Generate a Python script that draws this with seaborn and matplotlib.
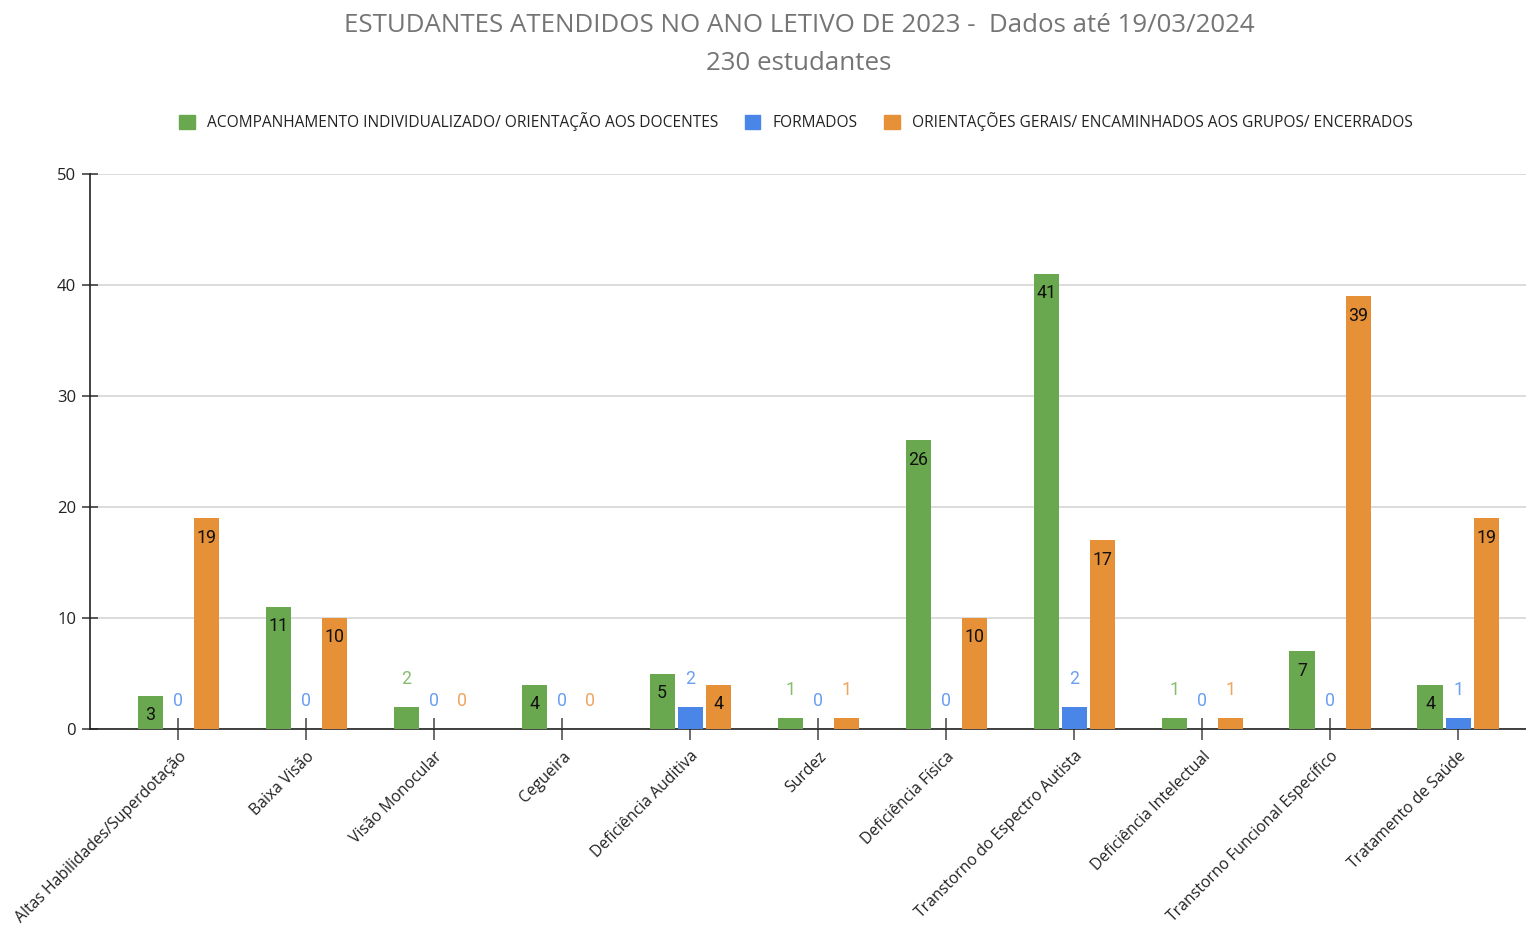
import matplotlib
matplotlib.use('Agg')
import matplotlib.pyplot as plt
import seaborn as sns
import pandas as pd
from matplotlib.patches import Patch

categories = ['Altas Habilidades/Superdotação', 'Baixa Visão', 'Visão Monocular', 'Cegueira',
              'Deficiência Auditiva', 'Surdez', 'Deficiência Física', 'Transtorno do Espectro Autista',
              'Deficiência Intelectual', 'Transtorno Funcional Específico', 'Tratamento de Saúde']
series_names = ['ACOMPANHAMENTO INDIVIDUALIZADO/ ORIENTAÇÃO AOS DOCENTES', 'FORMADOS',
                'ORIENTAÇÕES GERAIS/ ENCAMINHADOS AOS GRUPOS/ ENCERRADOS']
acompanhamento = [3, 11, 2, 4, 5, 1, 26, 41, 1, 7, 4]
formados = [0, 0, 0, 0, 2, 0, 0, 2, 0, 0, 1]
orientacoes = [19, 10, 0, 0, 4, 1, 10, 17, 1, 39, 19]
y_ticks = [0, 10, 20, 30, 40, 50]

colors = ['#6aa84f', '#4a86e8', '#e69138']
label_colors = ['#86bd6e', '#6b9ff0', '#eea560']

sns.set_style('white')
plt.rcParams['font.family'] = ['Open Sans', 'DejaVu Sans']

rows = []
for name, vals in zip(series_names, [acompanhamento, formados, orientacoes]):
    for c, v in zip(categories, vals):
        rows.append({'categoria': c, 'serie': name, 'valor': v})
df = pd.DataFrame(rows)

fig = plt.figure(figsize=(15.26, 9.26), dpi=100)
ax = fig.add_axes([90 / 1526, 1 - 729 / 926, 1 - 90 / 1526, (729 - 174) / 926])

sns.barplot(data=df, x='categoria', y='valor', hue='serie', hue_order=series_names,
            order=categories, palette=colors, width=0.66, gap=0.11, ax=ax,
            legend=False, zorder=3, saturation=1, linewidth=0)

ax.set_ylim(0, 50)
ax.set_xlim(-0.69, 10.53)
ax.set_yticks(y_ticks)
ax.yaxis.grid(True, color='#d6d6d6', linewidth=1.2, zorder=0)
ax.set_axisbelow(True)
for s in ['top', 'right']:
    ax.spines[s].set_visible(False)
ax.spines['left'].set_color('#222222')
ax.spines['bottom'].set_color('#222222')
ax.spines['left'].set_linewidth(1.2)
ax.spines['bottom'].set_linewidth(1.2)
ax.tick_params(axis='y', left=True, direction='inout', length=12, width=1.1, color='#333333',
               labelsize=12, labelcolor='#222222', pad=4)
ax.tick_params(axis='x', bottom=True, direction='inout', length=16, width=1.1, color='#444444',
               labelsize=11.3, labelcolor='#222222', pad=2)
ax.set_xticks(range(len(categories)))
ax.set_xticklabels(categories, rotation=45, ha='right', rotation_mode='anchor')
for lab in ax.get_xticklabels():
    lab.set_y(-0.01)
ax.set_xlabel('')
ax.set_ylabel('')

# value labels: inside the bar when tall enough, above it otherwise
for i, container in enumerate(ax.containers):
    for bar in container:
        h = bar.get_height()
        x = bar.get_x() + bar.get_width() / 2
        if h >= 3:
            ax.annotate(f'{int(h)}', (x, h), xytext=(0, -14), textcoords='offset points',
                        ha='center', va='center', fontsize=12.8, color='#111111',
                        family='Roboto', zorder=5)
        else:
            ax.annotate(f'{int(h)}', (x, h), xytext=(0, 20), textcoords='offset points',
                        ha='center', va='center', fontsize=12.8, color=label_colors[i],
                        family='Roboto', zorder=5)

fig.text(799 / 1526, 1 - 26 / 926, 'ESTUDANTES ATENDIDOS NO ANO LETIVO DE 2023 -  Dados até 19/03/2024',
         ha='center', va='center', fontsize=18.6, color='#757575')
fig.text(799 / 1526, 1 - 64 / 926, '230 estudantes', ha='center', va='center',
         fontsize=18.6, color='#757575')

handles = [Patch(facecolor=c, edgecolor=c) for c in colors]
fig.legend(handles, series_names, loc='center', bbox_to_anchor=(796 / 1526, 1 - 122 / 926),
           ncol=3, frameon=False, fontsize=11.2, handlelength=1.0, handleheight=1.0,
           handletextpad=0.8, columnspacing=1.7, labelcolor='#222222')

fig.savefig('out.png', dpi=100)
